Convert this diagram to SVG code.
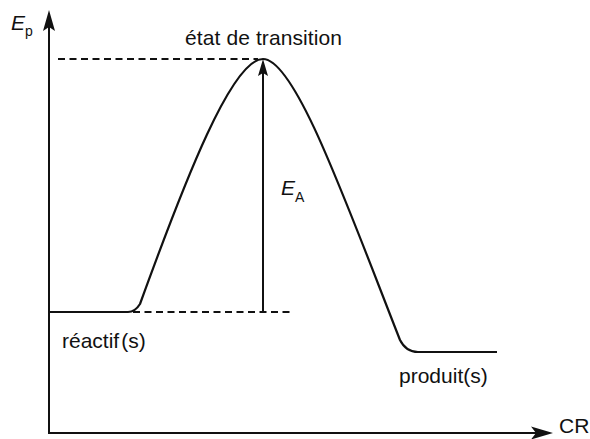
<svg xmlns="http://www.w3.org/2000/svg" width="590" height="439" viewBox="0 0 590 439">
<defs>
<style>
.ax{stroke:#111;stroke-width:2;fill:none}
.cv{stroke:#111;stroke-width:2.2;fill:none;stroke-linejoin:round}
.ds{stroke:#111;stroke-width:2;fill:none;stroke-dasharray:7 4.5}
.ar{fill:#111}
text{font-family:"Liberation Sans",Arial,sans-serif;fill:#111}
.lb{font-size:21px}
.it{font-style:italic}
.sb{font-style:normal;font-size:14px}
</style>
</defs>
<rect width="590" height="439" fill="#fff"/>
<g id="axes">
<line class="ax" x1="49" y1="434" x2="49" y2="26"/>
<path class="ar" d="M49,10 L55,31 L49,27 L43,31 Z"/>
<line class="ax" x1="48" y1="433" x2="538" y2="433"/>
<path class="ar" d="M553,433 L531,426.5 L536,433 L531,439.5 Z"/>
</g>
<g id="connectors">
<line class="ds" x1="58" y1="59" x2="258" y2="59"/>
<line class="ds" x1="133" y1="312" x2="291" y2="312"/>
<line class="ax" x1="263" y1="312" x2="263" y2="72"/>
<path class="ar" d="M263,59 L268,76 L263,73 L258,76 Z"/>
</g>
<g id="curve">
<path class="cv" d="M49,312 L128,312 Q135,312 140,304 C185,180 232,59 263,59 C295,59 345,200 400,340 Q406,352 418,352 L497,352"/>
</g>
<g id="labels">
<text class="lb it" x="11" y="30">E<tspan class="sb" dy="6">p</tspan></text>
<text class="lb" x="185" y="45" textLength="157">état de transition</text>
<text class="lb it" x="281" y="195">E<tspan class="sb" dy="7">A</tspan></text>
<text class="lb" x="62" y="348">réactif<tspan dx="2">(s)</tspan></text>
<text class="lb" x="399" y="383">produit(s)</text>
<text class="lb" x="559" y="433" font-size="20">CR</text>
</g>
</svg>
